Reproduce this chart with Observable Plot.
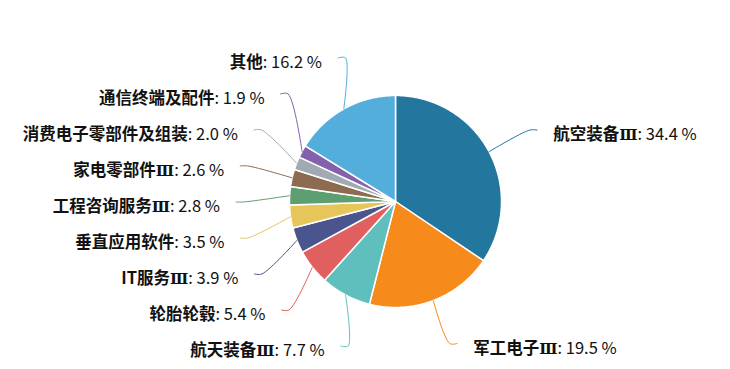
<!DOCTYPE html>
<html><head><meta charset="utf-8">
<script src="https://cdn.jsdelivr.net/npm/d3@7"></script>
<script src="https://cdn.jsdelivr.net/npm/@observablehq/plot@0.6"></script>
<style>body{margin:0;background:#fff;}</style>
</head><body><div id="chart"></div>
<script>
// ---- data ----
const names = ["航空装备Ⅲ","军工电子Ⅲ","航天装备Ⅲ","轮胎轮毂","IT服务Ⅲ","垂直应用软件","工程咨询服务Ⅲ","家电零部件Ⅲ","消费电子零部件及组装","通信终端及配件","其他"];
const values = [34.4,19.5,7.7,5.4,3.9,3.5,2.8,2.6,2.0,1.9,16.2];
const colors = ["#23779f","#f68b1b","#5ebfbd","#e05f5f","#4a558d","#e6c55b","#5e9f71","#8c6b50","#a1aab3","#8461ac","#54aedc"];

// ---- layout constants ----
const W = 730, H = 369;
const cx = 395, cy = 201, r = 106;
const R1 = 152, L2 = 7.5, gap = 16, spacing = 36;
const FONT = "'Noto Sans CJK SC', 'Noto Sans', sans-serif";
const SUFFONT = "'DejaVu Serif', 'Noto Sans CJK SC', serif";
const FS = 16.5, SFS = 15;

const data = names.map((name, i) => ({name, value: values[i]}));
const arcs = d3.pie().sort(null).value(d => d.value).startAngle(0).endAngle(2 * Math.PI)(data);

// slice polygons
const slicePts = [];
arcs.forEach(a => {
  const name = a.data.name;
  slicePts.push({name, x: cx, y: cy});
  const n = Math.max(4, Math.ceil((a.endAngle - a.startAngle) / 0.01));
  for (let k = 0; k <= n; k++) {
    const t = a.startAngle + (a.endAngle - a.startAngle) * k / n;
    slicePts.push({name, x: cx + r * Math.sin(t), y: cy - r * Math.cos(t)});
  }
  slicePts.push({name, x: cx, y: cy});
});

// labels
const labels = arcs.map(a => {
  const m = (a.startAngle + a.endAngle) / 2;
  const dir = Math.sin(m) >= 0 ? 1 : -1;
  return {name: a.data.name, value: a.data.value, m, dir,
    x0: cx + r * Math.sin(m), y0: cy - r * Math.cos(m),
    y: cy - R1 * Math.cos(m)};
});
function spread(list) {
  list.sort((a, b) => a.y - b.y);
  let blocks = list.map(l => ({items: [l]}));
  const top = b => d3.mean(b.items, (it, k) => it.y - k * spacing);
  blocks.forEach(b => b.top = top(b));
  let merged = true;
  while (merged) {
    merged = false;
    for (let i = 0; i < blocks.length - 1; i++) {
      const A = blocks[i], B = blocks[i + 1];
      if (B.top < A.top + A.items.length * spacing) {
        const nb = {items: A.items.concat(B.items)};
        nb.top = top(nb);
        blocks.splice(i, 2, nb);
        merged = true;
        break;
      }
    }
  }
  blocks.forEach(b => b.items.forEach((it, k) => it.y = b.top + k * spacing));
}
spread(labels.filter(d => d.dir < 0));
spread(labels.filter(d => d.dir > 0));

const ctx = document.createElement("canvas").getContext("2d");
function tw(s, bold, font = FONT, size = FS) { ctx.font = (bold ? "bold " : "") + size + "px " + font; return ctx.measureText(s).width; }

const leaderPts = [];
labels.forEach(d => {
  const dy = d.y - cy;
  d.x1 = cx + d.dir * Math.sqrt(Math.max(0, R1 * R1 - dy * dy));
  d.x2 = d.x1 + d.dir * L2;
  d.tx = d.x2 + d.dir * gap;
  d.stem = d.name.replace(/Ⅲ$/, "");
  d.suffix = d.name.endsWith("Ⅲ") ? "Ⅲ" : "";
  d.valText = ": " + d.value.toFixed(1) + " %";
  const wv = tw(d.valText, false), ws = tw(d.stem, true), wx = d.suffix ? tw(d.suffix, true, SUFFONT, SFS) : 0;
  if (d.dir < 0) { d.valX = d.tx; d.sufX = d.tx - wv; d.stemX = d.sufX - wx; }
  else { d.stemX = d.tx; d.sufX = d.tx + ws; d.valX = d.sufX + wx; }
  leaderPts.push({name: d.name, x: d.x0, y: d.y0});
  leaderPts.push({name: d.name, x: d.x1, y: d.y});
  leaderPts.push({name: d.name, x: d.x2, y: d.y});
});
const left = labels.filter(d => d.dir < 0), right = labels.filter(d => d.dir > 0);
const T = {y: "y", fill: "#111"};

function textMarks(list, anchor) {
  return [
    Plot.text(list, {...T, x: "stemX", text: "stem", textAnchor: anchor, fontWeight: "bold", fontSize: FS, dy: 5}),
    Plot.text(list.filter(d => d.suffix), {...T, x: "sufX", text: "suffix", textAnchor: anchor, fontWeight: "bold", fontSize: SFS, fontFamily: SUFFONT, dy: 5.5}),
    Plot.text(list, {...T, x: "valX", text: "valText", textAnchor: anchor, fontSize: FS, dy: 5})
  ];
}

const chart = Plot.plot({
  width: W, height: H, margin: 0,
  x: {domain: [0, W], range: [0, W], axis: null},
  y: {domain: [0, H], range: [0, H], axis: null},
  color: {domain: names, range: colors},
  style: {fontFamily: FONT, background: "#fff"},
  marks: [
    Plot.line(slicePts, {x: "x", y: "y", z: "name", fill: "name", stroke: "white", strokeWidth: 1.5, curve: "linear"}),
    Plot.line(leaderPts, {x: "x", y: "y", z: "name", stroke: "name", strokeWidth: 1, curve: "catmull-rom"}),
    ...textMarks(left, "end"),
    ...textMarks(right, "start")
  ]
});
document.getElementById("chart").appendChild(chart);
</script>
</body></html>
